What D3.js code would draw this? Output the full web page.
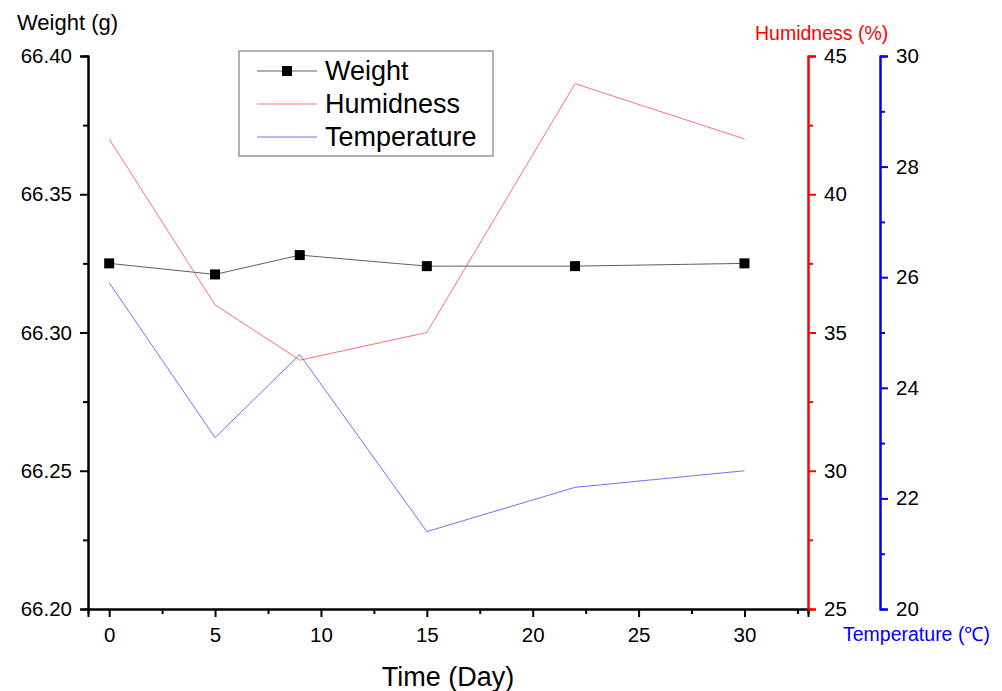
<!DOCTYPE html>
<html>
<head>
<meta charset="utf-8">
<script src="https://cdn.jsdelivr.net/npm/d3@7"></script>
<style>
body { margin: 0; background: #fff; }
svg { font-family: Arial, "Liberation Sans", sans-serif; }
</style>
</head>
<body>
<svg id="chart" width="1002" height="691"></svg>
<script>
// data
var days = [0, 5, 9, 15, 22, 30];
var weight = [66.325, 66.321, 66.328, 66.324, 66.324, 66.325];
var humid = [42, 36, 34, 35, 44, 42];
var temp = [25.9, 23.1, 24.6, 21.4, 22.2, 22.5];

var xTicks = [0, 5, 10, 15, 20, 25, 30];
var weightTicks = [66.20, 66.25, 66.30, 66.35, 66.40];
var humidTicks = [25, 30, 35, 40, 45];
var tempTicks = [20, 22, 24, 26, 28, 30];

var legendNames = ["Weight", "Humidness", "Temperature"];

var dims = { left: 88, right: 808, top: 56, bottom: 609, tempAxis: 880 };

var svg = d3.select("#chart");

var xScale = d3.scaleLinear().domain([-1, 33]).range([dims.left, dims.right]);
var yWeight = d3.scaleLinear().domain([66.20, 66.40]).range([dims.bottom, dims.top]);
var yHumid = d3.scaleLinear().domain([25, 45]).range([dims.bottom, dims.top]);
var yTemp = d3.scaleLinear().domain([20, 30]).range([dims.bottom, dims.top]);

function styleAxis(g, color) {
    g.selectAll("path").attr("stroke", color).attr("stroke-width", 2);
    g.selectAll("line").attr("stroke", color).attr("stroke-width", 2);
    g.selectAll("text").attr("fill", "#000").style("font-size", "20.5px");
}

// minor ticks first so major ones sit on top
svg.append("g")
    .attr("transform", `translate(${dims.left},0)`)
    .call(d3.axisLeft(yWeight).tickValues(d3.range(66.225, 66.40, 0.05)).tickSize(5).tickFormat(""))
    .call(g => styleAxis(g, "#000"));
svg.append("g")
    .attr("transform", `translate(${dims.left},0)`)
    .call(d3.axisLeft(yWeight).tickValues(weightTicks).tickSize(8).tickPadding(8).tickFormat(d3.format(".2f")))
    .call(g => styleAxis(g, "#000"));

svg.append("g")
    .attr("transform", `translate(0,${dims.bottom})`)
    .call(d3.axisBottom(xScale).tickValues(d3.range(2.5, 33, 5)).tickSize(5).tickFormat(""))
    .call(g => styleAxis(g, "#000"));
svg.append("g")
    .attr("transform", `translate(0,${dims.bottom})`)
    .call(d3.axisBottom(xScale).tickValues(xTicks).tickSize(8).tickPadding(10))
    .call(g => styleAxis(g, "#000"));

svg.append("g")
    .attr("transform", `translate(${dims.right},0)`)
    .call(d3.axisRight(yHumid).tickValues(d3.range(27.5, 45, 5)).tickSize(5).tickFormat(""))
    .call(g => styleAxis(g, "#ff0000"));
svg.append("g")
    .attr("transform", `translate(${dims.right},0)`)
    .call(d3.axisRight(yHumid).tickValues(humidTicks).tickSize(8).tickPadding(8))
    .call(g => styleAxis(g, "#ff0000"));

svg.append("g")
    .attr("transform", `translate(${dims.tempAxis},0)`)
    .call(d3.axisRight(yTemp).tickValues(d3.range(21, 30, 2)).tickSize(5).tickFormat(""))
    .call(g => styleAxis(g, "#0000ff"));
svg.append("g")
    .attr("transform", `translate(${dims.tempAxis},0)`)
    .call(d3.axisRight(yTemp).tickValues(tempTicks).tickSize(8).tickPadding(8))
    .call(g => styleAxis(g, "#0000ff"));

// axis titles
svg.append("text").attr("x", 17).attr("y", 30).style("font-size", "22px").text("Weight (g)");
svg.append("text").attr("x", 755).attr("y", 40).style("font-size", "19.5px").attr("fill", "#ff0000").text("Humidness (%)");
svg.append("text").attr("x", 843).attr("y", 641).style("font-size", "19.5px").attr("fill", "#0000ff").text("Temperature (℃)");
svg.append("text").attr("x", 448).attr("y", 686).style("text-anchor", "middle").style("font-size", "27px").text("Time (Day)");

// lines
function drawLine(values, yScale, color) {
    var line = d3.line().x((d, i) => xScale(days[i])).y(d => yScale(d));
    svg.append("path")
        .datum(values)
        .attr("d", line)
        .attr("fill", "none")
        .attr("stroke", color)
        .attr("stroke-width", 1);
}

drawLine(humid, yHumid, "#ff7070");
drawLine(temp, yTemp, "#7070ff");
drawLine(weight, yWeight, "#606060");

svg.selectAll("rect.marker")
    .data(weight)
    .enter()
    .append("rect")
    .attr("class", "marker")
    .attr("x", (d, i) => xScale(days[i]) - 5)
    .attr("y", d => yWeight(d) - 5)
    .attr("width", 10)
    .attr("height", 10)
    .attr("fill", "#000");

// legend
var legend = svg.append("g").attr("transform", "translate(239,51)");
legend.append("rect")
    .attr("width", 254).attr("height", 105)
    .attr("fill", "#fff").attr("stroke", "#808080").attr("stroke-width", 1.2);

var legendColors = ["#606060", "#ff7070", "#7070ff"];
legendNames.forEach(function(name, i) {
    var y = 20 + i * 33;
    legend.append("line")
        .attr("x1", 18).attr("x2", 78).attr("y1", y).attr("y2", y)
        .attr("stroke", legendColors[i]).attr("stroke-width", 1);
    if (i == 0) {
        legend.append("rect").attr("x", 43).attr("y", y - 5).attr("width", 10).attr("height", 10).attr("fill", "#000");
    }
    legend.append("text")
        .attr("x", 86).attr("y", y + 9)
        .style("font-size", "27px")
        .text(name);
});
</script>
</body>
</html>
